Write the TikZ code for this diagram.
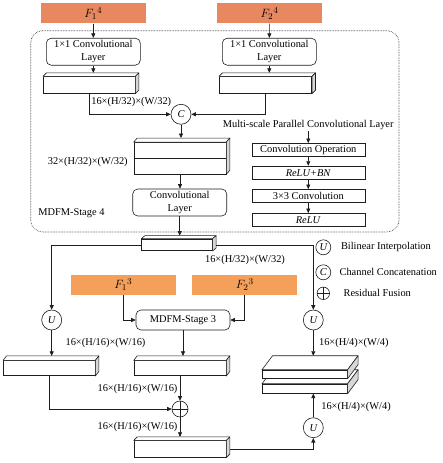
\documentclass[tikz,border=0pt]{standalone}
\usepackage{fontspec}
\setmainfont{Liberation Serif}
\usetikzlibrary{arrows.meta,positioning,calc}
\definecolor{fdeep}{RGB}{232,136,96}
\definecolor{flight}{RGB}{245,160,90}
\definecolor{sidegray}{RGB}{215,215,215}
\definecolor{ink}{RGB}{30,30,30}
\tikzset{
  txt/.style={font=\fontsize{10.4}{13}\selectfont,inner sep=1pt},
  feat/.style={rectangle,minimum width=105pt,minimum height=20pt,inner sep=0pt,
    font=\fontsize{13}{14}\selectfont},
  layer/.style={draw=ink,rounded corners=5pt,minimum width=94pt,minimum height=27pt,
    align=center,font=\fontsize{10.4}{13}\selectfont,inner sep=0pt},
  op/.style={draw=ink,minimum width=113pt,minimum height=13.3pt,inner sep=0pt,
    font=\fontsize{10.4}{13}\selectfont},
  opc/.style={circle,draw=ink,fill=white,minimum size=20pt,inner sep=0pt,
    font=\fontsize{10.4}{13}\selectfont\itshape},
  plus/.style={circle,draw=ink,fill=white,minimum size=16pt,inner sep=0pt,
    path picture={\draw[ink] (path picture bounding box.north) -- (path picture bounding box.south)
      (path picture bounding box.west) -- (path picture bounding box.east);}},
  slabf/.style={draw=ink,fill=white,inner sep=0pt},
  arr/.style={-{Triangle[length=4.5pt,width=4pt]},ink},
  wire/.style={ink},
}
% front face is a node, top and side faces hang on its anchors
\newcommand{\slab}[6]{%
  \node[slabf,minimum width=#3pt,minimum height=#4pt] (#1) at (#2) {};
  \draw[ink,fill=white,line join=round] (#1.north west) -- ++(#5,-#6)
    -- ([shift={(#5,-#6)}]#1.north east) -- (#1.north east) -- cycle;
  \draw[ink,fill=sidegray,line join=round] (#1.north east) -- ++(#5,-#6)
    -- ([shift={(#5,-#6)}]#1.south east) -- (#1.south east) -- cycle;
}

\begin{document}
\begin{tikzpicture}[x=1pt,y=-1pt,line width=0.6pt]
  \useasboundingbox (0,0) rectangle (443,463);

  % MDFM stage 4
  \draw[ink,densely dotted,rounded corners=12pt] (30.7,30.7) rectangle (399,232);
  \node[feat,fill=fdeep] (F14) at (93.3,13.3) {$F_1{}^4$};
  \node[feat,fill=fdeep] (F24) at (269.5,13.3) {$F_2{}^4$};
  \node[layer] (conv1) at (93.3,51.7) {1×1 Convolutional\\Layer};
  \node[layer] (conv2) at (269.3,51.7) {1×1 Convolutional\\Layer};
  \slab{sL}{89.2,85}{91.7}{16.7}{3.5}{3.5}
  \slab{sR}{265.5,85}{92.4}{16.7}{3.5}{3.5}
  \node[opc] (C) at (181,114.3) {C};
  \node[txt,anchor=west] (lab1) at (90,101.7) {16×(H/32)×(W/32)};
  \slab{bs}{180,158.2}{92}{31.7}{3.5}{4}
  \draw[ink] (bs.west) -- (bs.east);
  \node[txt,anchor=east] (lab2) at (129,161.7) {32×(H/32)×(W/32)};
  \node[layer] (conv3) at (179.7,202.5) {Convolutional\\Layer};
  \node[txt,anchor=west] (st4) at (37,212.7) {MDFM-Stage 4};

  \node[txt] (msp) at (308.2,125) {Multi-scale Parallel Convolutional Layer};
  \node[op] (op1) at (308.3,150) {Convolution Operation};
  \node[op] (op2) at (308.3,172.7) {\textit{ReLU+BN}};
  \node[op] (op3) at (308.3,196) {3×3 Convolution};
  \node[op] (op4) at (308.3,220) {\textit{ReLU}};

  \draw[arr] (F14) -- (conv1);
  \draw[arr] (F24) -- (conv2);
  \draw[arr] (conv1.south) -- ([yshift=3.5pt]conv1.south |- sL.north);
  \draw[arr] (conv2.south) -- ([yshift=3.5pt]conv2.south |- sR.north);
  \draw[arr] (sL.south) |- (C);
  \draw[arr] (sR.south) |- (C);
  \draw[arr] (C.south) -- ([yshift=4pt]C.south |- bs.north);
  \draw[arr] (bs.south) -- (bs.south |- conv3.north);
  \draw[arr] (msp.south -| op1) -- (op1);
  \draw[arr] (op1) -- (op2);
  \draw[arr] (op2) -- (op3);
  \draw[arr] (op3) -- (op4);

  % decoder
  \slab{s32}{177,244.8}{70.6}{11.7}{3.5}{3}
  \draw[arr] (conv3.south) -- ([yshift=3pt]conv3.south |- s32.north);
  \node[txt] (lab3) at (245,260) {16×(H/32)×(W/32)};
  \node[opc] (U1) at (51.7,320) {U};
  \node[opc] (U2) at (313.3,320) {U};
  \draw[arr] (s32.west) -| (U1);
  \draw[arr] ([xshift=3.5pt]s32.east) -| (U2);

  % legend
  \node[opc,minimum size=15pt] (lU) at (323.3,247.3) {U};
  \node[opc,minimum size=15pt] (lC) at (323.3,272.3) {C};
  \node[plus,minimum size=12.5pt] (lP) at (323.3,293.3) {};
  \node[txt,anchor=west] at (339.7,247.3) {Bilinear Interpolation};
  \node[txt,anchor=west] at (338.3,272.3) {Channel Concatenation};
  \node[txt,anchor=west] at (342.3,293.3) {Residual Fusion};

  \node[feat,fill=flight] (F13) at (123.3,284.7) {$F_1{}^3$};
  \node[feat,fill=flight] (F23) at (244.7,284.7) {$F_2{}^3$};
  \node[layer,minimum height=20pt] (M3) at (183,320) {MDFM-Stage 3};
  \draw[arr] (F13.south) |- (M3);
  \draw[arr] (F23.south) |- (M3);
  \node[txt] (lab4) at (105.5,343.3) {16×(H/16)×(W/16)};
  \node[txt] (lab5) at (353.8,343.3) {16×(H/4)×(W/4)};

  \slab{sA}{49.2,368.2}{91.7}{15}{3.5}{4.5}
  \slab{sB}{180,368.2}{92}{15}{3.5}{4.5}
  \slab{stB}{304.8,388.7}{85}{9.3}{10.5}{14}
  \slab{stA}{304.8,374.2}{85}{8.3}{10.5}{14}
  \draw[arr] (U1.south) -- ([yshift=4.5pt]U1.south |- sA.north);
  \draw[arr] (M3.south) -- ([yshift=4.5pt]M3.south |- sB.north);
  \draw[arr] (U2.south) -- ([yshift=14pt]U2.south |- stA.north);

  \node[plus] (P) at (180,409) {};
  \node[txt] (lab6) at (137.5,389) {16×(H/16)×(W/16)};
  \node[txt] (lab7) at (137.5,426.7) {16×(H/16)×(W/16)};
  \slab{sC}{180,449}{92}{16.6}{3.5}{3.5}
  \node[opc] (U3) at (313.3,427.7) {U};
  \node[txt,anchor=west] (lab8) at (320,406.7) {16×(H/4)×(W/4)};
  \draw[arr] (sA.south) |- (P);
  \draw[arr] (sB.south) -- (P);
  \draw[arr] (P.south) -- ([yshift=3.5pt]P.south |- sC.north);
  \draw[arr] ([xshift=3.5pt]sC.east) -| (U3);
  \draw[arr] (U3.north) -- (U3.north |- stB.south);
\end{tikzpicture}
\end{document}
